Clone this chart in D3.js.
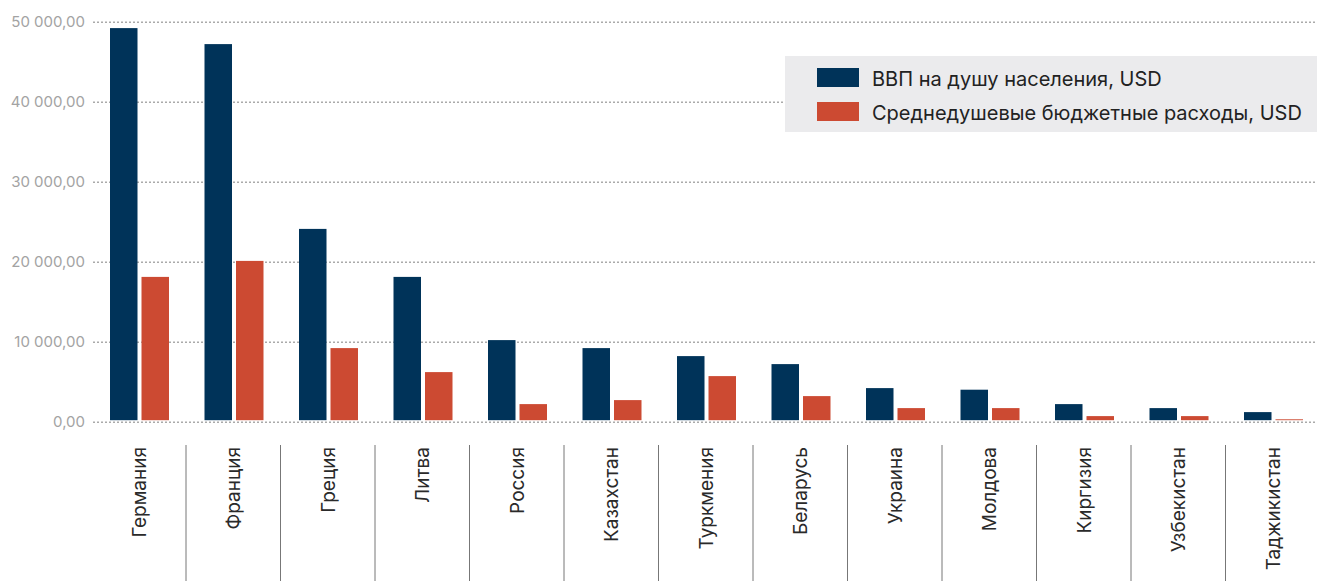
<!DOCTYPE html>
<html>
<head>
<meta charset="utf-8">
<script src="https://cdn.jsdelivr.net/npm/d3@7"></script>
<style>
  body { margin: 0; background: #fff; }
  svg { display: block; font-family: Inter, "Noto Sans", sans-serif; }
</style>
</head>
<body>
<svg></svg>
<script>
const width = 1317;
const height = 581;

const countries = ["Германия", "Франция", "Греция", "Литва", "Россия", "Казахстан", "Туркмения",
    "Беларусь", "Украина", "Молдова", "Киргизия", "Узбекистан", "Таджикистан"];
const gdp = [49200, 47200, 24100, 18100, 10200, 9200, 8200, 7200, 4200, 4000, 2200, 1700, 1200];
const spending = [18100, 20100, 9200, 6200, 2200, 2700, 5700, 3200, 1700, 1700, 700, 700, 300];
const seriesNames = ["ВВП на душу населения, USD", "Среднедушевые бюджетные расходы, USD"];
const colors = ["#003359", "#cc4a32"];
const yTicks = [0, 10000, 20000, 30000, 40000, 50000];

let svg = d3.select("svg").attr("width", width).attr("height", height);

const ru = d3.formatLocale({ decimal: ",", thousands: "\u00a0", grouping: [3], currency: ["", ""] });
const fmt = ru.format(",.2f");

const x = d3.scaleBand().domain(countries).range([91, 1319.5]);
const sub = d3.scaleBand().domain([0, 1]).range([19, 78]).paddingInner(0.127);
const y = d3.scaleLinear().domain([0, 50000]).range([421.7, 21.7]);

// grid + y labels
let yAxis = svg.append("g").attr("transform", "translate(93,0)")
    .call(d3.axisLeft(y).tickValues(yTicks).tickSize(-(width - 93)).tickPadding(8).tickFormat(fmt));
yAxis.select(".domain").remove();
yAxis.selectAll(".tick line").attr("stroke", "#aaa").attr("stroke-width", 1.5).attr("stroke-dasharray", "2,2");
yAxis.selectAll(".tick text").attr("fill", "#a3a3a3").attr("font-size", 15).attr("font-family", "Inter, sans-serif");

// bars
const data = countries.map((c, i) => ({ country: c, values: [gdp[i], spending[i]] }));
let groups = svg.append("g").selectAll("g").data(data).join("g")
    .attr("transform", d => `translate(${x(d.country)},0)`);
groups.selectAll("rect").data(d => d.values.map((v, k) => ({ k: k, v: v }))).join("rect")
    .attr("x", d => sub(d.k))
    .attr("width", sub.bandwidth())
    .attr("y", d => y(d.v))
    .attr("height", d => y(0) - 1.5 - y(d.v))
    .attr("fill", d => colors[d.k]);

// separators between categories
svg.append("g").selectAll("line").data(countries.slice(1)).join("line")
    .attr("x1", d => x(d) + 0.5).attr("x2", d => x(d) + 0.5)
    .attr("y1", 445).attr("y2", height)
    .attr("stroke", "#777").attr("stroke-width", 1);

// category labels
svg.append("g").selectAll("text").data(countries).join("text")
    .attr("transform", d => `translate(${x(d) + x.bandwidth() / 2 + 1},447) rotate(-90)`)
    .attr("dy", "0.35em")
    .attr("text-anchor", "end")
    .attr("font-size", 19)
    .attr("fill", "#2a2a2a")
    .text(d => d);

// legend
let legend = svg.append("g");
legend.append("rect").attr("x", 785).attr("y", 56).attr("width", width - 785).attr("height", 76).attr("fill", "#ebebed");
seriesNames.forEach((name, i) => {
    legend.append("rect").attr("x", 817).attr("y", 68 + i * 34).attr("width", 42).attr("height", 19).attr("fill", colors[i]);
    legend.append("text").attr("x", 872).attr("y", 79.3 + i * 34).attr("dy", "0.35em")
        .attr("font-size", 20).attr("fill", "#222").text(name);
});
</script>
</body>
</html>
